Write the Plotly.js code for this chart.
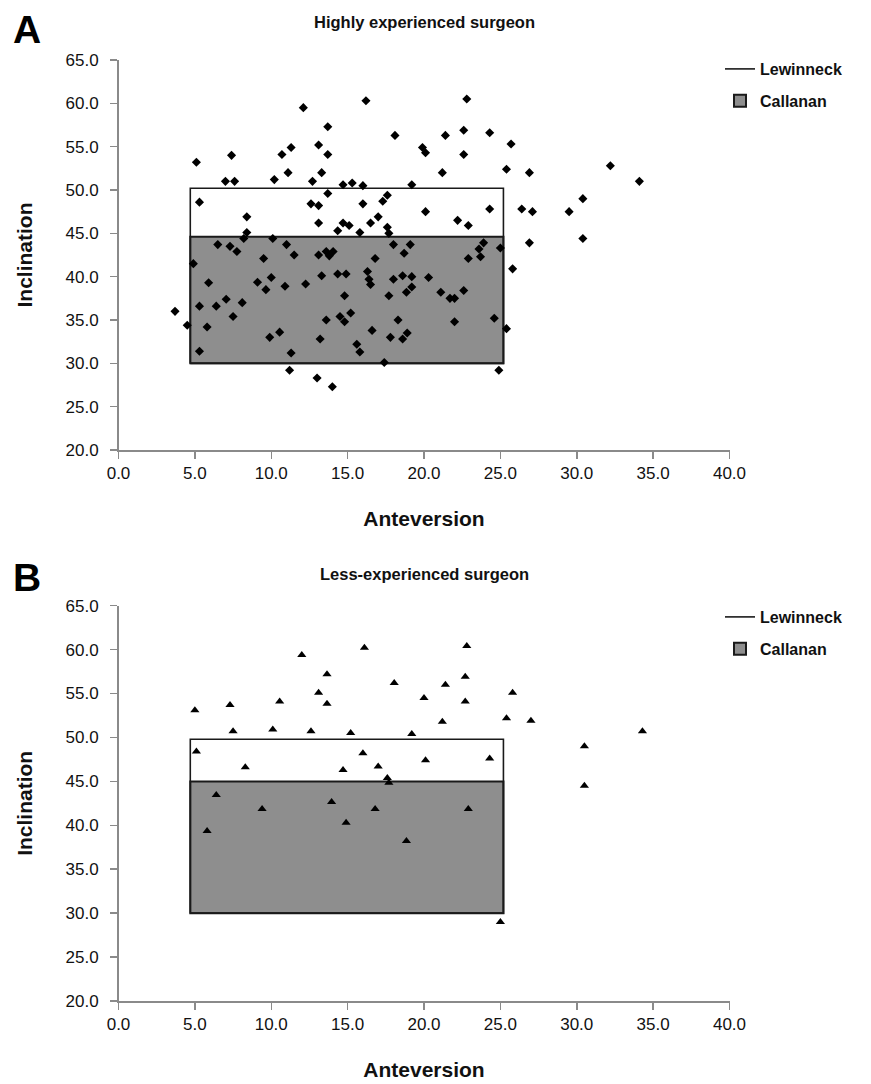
<!DOCTYPE html>
<html><head><meta charset="utf-8">
<script src="https://cdn.plot.ly/plotly-3.0.1.min.js"></script>
<style>html,body{margin:0;padding:0;background:#fff}#chart{width:871px;height:1084px}</style>
</head><body><div id="chart"></div>
<script>
// Panel A: highly experienced surgeon (anteversion, inclination)
const aX = [5.1,7.4,7.0,7.6,5.3,8.4,8.4,8.2,6.5,7.3,
  10.1,11.0,10.2,10.7,11.1,11.3,12.1,12.7,12.6,13.1,
  13.1,13.7,13.1,13.7,13.3,13.7,14.35,16.2,22.8,18.1,
  21.4,22.6,24.3,25.7,19.9,20.1,22.6,25.4,26.9,21.2,
  14.7,15.3,16.0,19.2,16.0,17.3,17.6,20.1,24.3,26.4,
  27.1,29.5,17.0,16.5,14.7,15.1,15.8,17.6,17.7,22.2,
  22.9,18.0,19.1,26.9,23.9,25.0,18.7,23.6,16.8,22.9,
  23.7,25.8,14.35,14.9,16.3,16.4,16.5,18.0,18.6,19.2,
  20.3,19.2,18.85,21.1,22.0,21.7,22.6,14.8,17.7,14.5,
  15.2,14.8,18.3,22.0,24.6,25.4,16.6,17.8,18.9,18.6,
  15.6,15.8,17.4,24.9,14.0,7.75,11.5,9.5,13.1,13.6,
  14.05,13.8,4.9,13.3,10.0,9.1,9.65,10.9,12.25,5.9,
  7.05,8.1,6.4,5.3,3.7,4.5,7.5,5.8,13.6,10.55,
  9.9,13.2,5.3,11.3,11.2,13.0,32.2,34.1,30.4,30.4];
const aY = [53.2,54.0,51.0,51.0,48.6,46.9,45.1,44.4,43.7,43.5,
  44.4,43.7,51.2,54.1,52.0,54.9,59.5,51.0,48.4,48.2,
  46.2,57.3,55.2,54.1,52.0,49.6,45.3,60.3,60.5,56.3,
  56.3,56.9,56.6,55.3,54.9,54.3,54.1,52.4,52.0,52.0,
  50.6,50.8,50.5,50.6,48.4,48.7,49.4,47.5,47.8,47.8,
  47.5,47.5,46.9,46.2,46.2,45.9,45.1,45.7,45.0,46.5,
  45.9,43.7,43.7,43.9,43.9,43.3,42.7,43.2,42.1,42.1,
  42.3,40.9,40.3,40.3,40.6,39.7,39.1,39.7,40.1,40.0,
  39.9,38.8,38.2,38.2,37.5,37.5,38.4,37.8,37.8,35.4,
  35.8,34.8,35.0,34.8,35.2,34.0,33.8,33.0,33.5,32.8,
  32.2,31.3,30.1,29.2,27.3,42.9,42.5,42.1,42.5,42.9,
  42.9,42.4,41.5,40.1,39.9,39.35,38.5,38.9,39.15,39.3,
  37.4,37.0,36.6,36.6,36.0,34.4,35.4,34.2,35.0,33.6,
  33.0,32.8,31.4,31.2,29.2,28.3,52.8,51.0,49.0,44.4];

// Panel B: less-experienced surgeon
const bX = [5.0,7.3,7.5,10.1,10.55,12.0,13.65,13.1,13.65,12.6,
  5.1,8.3,16.1,22.8,18.05,21.4,22.7,25.8,20.0,22.7,
  21.2,25.4,27.0,15.2,19.2,16.0,20.1,24.3,14.7,17.0,
  17.6,17.7,34.3,30.5,30.5,6.4,9.4,13.95,5.8,16.8,
  14.9,18.85,22.9,25.0];
const bY = [53.1,53.7,50.7,50.9,54.1,59.4,57.2,55.1,53.85,50.7,
  48.4,46.6,60.2,60.4,56.2,56.0,56.9,55.1,54.5,54.1,
  51.8,52.2,51.9,50.5,50.4,48.2,47.4,47.6,46.3,46.7,
  45.4,44.85,50.7,49.0,44.5,43.45,41.85,42.65,39.35,41.85,
  40.3,38.2,41.85,29.0];

// Safe zones as drawn (anteversion range, inclination range)
const zoneX = [4.7, 25.2];
const lewinneckA = [30.0, 50.2];
const callananA = [30.0, 44.6];
const lewinneckB = [30.0, 49.8];
const callananB = [30.0, 45.0];

const titles = ["Highly experienced surgeon", "Less-experienced surgeon"];
const panelLetters = ["A", "B"];
const xTitle = "Anteversion";
const yTitle = "Inclination";
const legendNames = ["Lewinneck", "Callanan"];

function rectPath(xr, yr) {
  return { x: [xr[0], xr[1], xr[1], xr[0], xr[0]], y: [yr[0], yr[0], yr[1], yr[1], yr[0]] };
}

const lA = rectPath(zoneX, lewinneckA);
const lB = rectPath(zoneX, lewinneckB);

const traces = [
  { x: lA.x, y: lA.y, type: 'scatter', mode: 'lines', name: legendNames[0],
    line: { color: '#1a1a1a', width: 1.6 }, xaxis: 'x', yaxis: 'y', legend: 'legend', legendgroup: 'lewA', legendrank: 1, hoverinfo: 'skip' },
  { x: aX, y: aY, type: 'scatter', mode: 'markers', showlegend: false,
    marker: { symbol: 'diamond', size: 7, color: '#000' }, xaxis: 'x', yaxis: 'y' },
  { x: lB.x, y: lB.y, type: 'scatter', mode: 'lines', name: legendNames[0],
    line: { color: '#1a1a1a', width: 1.6 }, xaxis: 'x2', yaxis: 'y2', legend: 'legend2', legendgroup: 'lewB', legendrank: 1, hoverinfo: 'skip' },
  { x: bX, y: bY, type: 'scatter', mode: 'markers', showlegend: false,
    marker: { symbol: 'triangle-up', size: 8, color: '#000' }, xaxis: 'x2', yaxis: 'y2' }
];

const axisFont = { family: '"Liberation Sans Narrow", "Arial Narrow", "Liberation Sans", sans-serif', size: 17, color: '#111' };
function xAxis(anchor) {
  return { domain: [118.5/871, 729.5/871], range: [0, 40], dtick: 5, tick0: 0, tickformat: '.1f',
    showgrid: false, zeroline: false, showline: true, linecolor: '#8a8a8a', linewidth: 1.5,
    ticks: 'outside', ticklen: 7, tickwidth: 1.5, tickcolor: '#8a8a8a', tickfont: axisFont,
    anchor: anchor, fixedrange: true };
}
function yAxis(domainY, anchor) {
  return { domain: domainY, range: [20, 65], dtick: 5, tick0: 20, tickformat: '.1f',
    showgrid: false, zeroline: false, showline: true, linecolor: '#8a8a8a', linewidth: 1.5,
    ticks: 'outside', ticklen: 7, tickwidth: 1.5, tickcolor: '#8a8a8a', tickfont: axisFont,
    ticklabelstandoff: 8, anchor: anchor, fixedrange: true };
}
const domA = [1 - 450/1084, 1 - 60/1084];
const domB = [1 - 1001/1084, 1 - 605.7/1084];

const boldFont = { family: '"Liberation Sans", Arial, sans-serif', size: 21, color: '#111', weight: 'bold' };
const legendFont = { family: '"Liberation Sans", Arial, sans-serif', size: 16, color: '#111', weight: 'bold' };
const titleFont = { family: '"Liberation Sans Narrow", "Arial Narrow", "Liberation Sans", sans-serif', size: 16.5, color: '#111', weight: 'bold' };

const xa = xAxis('y'); xa.title = { text: xTitle, font: boldFont, standoff: 29 };
const ya = yAxis(domA, 'x'); ya.title = { text: yTitle, font: boldFont, standoff: 27 };
const xb = xAxis('y2'); xb.title = { text: xTitle, font: boldFont, standoff: 29 };
const yb = yAxis(domB, 'x2'); yb.title = { text: yTitle, font: boldFont, standoff: 27 };
xb.domain = xa.domain;

const layout = {
  width: 871, height: 1084,
  margin: { l: 0, r: 0, t: 0, b: 0 },
  paper_bgcolor: '#fff', plot_bgcolor: '#fff',
  showlegend: true,
  xaxis: xa, yaxis: ya, xaxis2: xb, yaxis2: yb,
  legend: { x: 720/871, y: 1 - 52/1084, xanchor: 'left', yanchor: 'top', font: legendFont,
    bgcolor: 'rgba(0,0,0,0)', tracegroupgap: 8, traceorder: 'grouped' },
  legend2: { x: 720/871, y: 1 - 600/1084, xanchor: 'left', yanchor: 'top', font: legendFont,
    bgcolor: 'rgba(0,0,0,0)', tracegroupgap: 8, traceorder: 'grouped' },
  shapes: [
    { type: 'rect', xref: 'x', yref: 'y', x0: zoneX[0], x1: zoneX[1], y0: callananA[0], y1: callananA[1],
      fillcolor: '#8e8e8e', line: { color: '#1a1a1a', width: 2 }, layer: 'below',
      showlegend: true, name: legendNames[1], legend: 'legend', legendgroup: 'calA', legendrank: 2 },
    { type: 'rect', xref: 'x2', yref: 'y2', x0: zoneX[0], x1: zoneX[1], y0: callananB[0], y1: callananB[1],
      fillcolor: '#8e8e8e', line: { color: '#1a1a1a', width: 2 }, layer: 'below',
      showlegend: true, name: legendNames[1], legend: 'legend2', legendgroup: 'calB', legendrank: 2 }
  ],
  annotations: [
    { text: titles[0], xref: 'paper', yref: 'paper', x: 424/871, y: 1 - 22/1084, showarrow: false,
      xanchor: 'center', yanchor: 'middle', font: titleFont },
    { text: titles[1], xref: 'paper', yref: 'paper', x: 424/871, y: 1 - 574/1084, showarrow: false,
      xanchor: 'center', yanchor: 'middle', font: titleFont },
    { text: panelLetters[0], xref: 'paper', yref: 'paper', x: 11/871, y: 1 - 29/1084, showarrow: false,
      xanchor: 'left', yanchor: 'middle', font: { family: '"Liberation Sans", Arial, sans-serif', size: 39, color: '#000', weight: 'bold' } },
    { text: panelLetters[1], xref: 'paper', yref: 'paper', x: 11/871, y: 1 - 577/1084, showarrow: false,
      xanchor: 'left', yanchor: 'middle', font: { family: '"Liberation Sans", Arial, sans-serif', size: 39, color: '#000', weight: 'bold' } }
  ]
};

Plotly.newPlot('chart', traces, layout, { displayModeBar: false, staticPlot: true });
</script></body></html>
